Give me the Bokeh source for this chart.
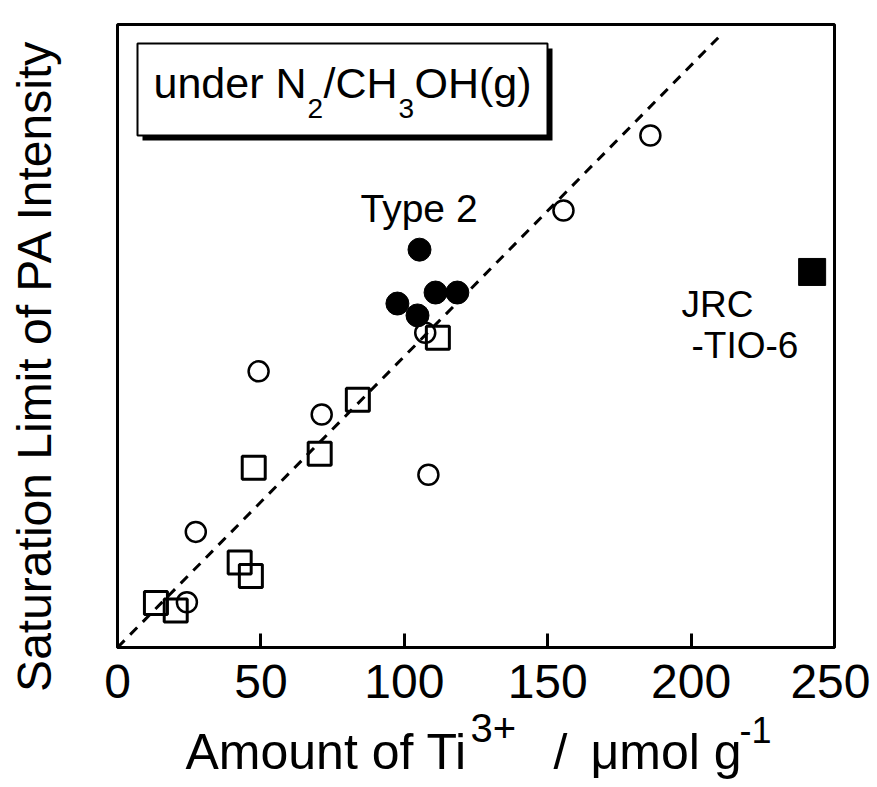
from math import pi
from bokeh.plotting import figure
from bokeh.models import Range1d, Label, BoxAnnotation, FixedTicker
from bokeh.embed import file_html
from bokeh.resources import INLINE

# ---- data ----
open_circle_x = [185.8, 155.5, 107.3, 49.2, 71.2, 108.4, 27.3, 24.2]
open_circle_y = [176.7, 150.8, 108.6, 95.3, 80.4, 59.6, 39.9, 15.6]

open_square_x = [111.7, 83.8, 70.5, 47.5, 42.6, 46.5, 13.4, 20.3]
open_square_y = [106.9, 85.5, 66.9, 62.0, 29.3, 24.7, 15.4, 12.8]

type2_x = [105.3, 97.6, 104.6, 110.9, 118.5]
type2_y = [137.3, 118.7, 114.6, 122.5, 122.5]

jrc_x = [242.2]
jrc_y = [129.6]

fit_x = [0, 211]
fit_y = [0, 212]

x_ticks = [0, 50, 100, 150, 200, 250]
X_MAX, Y_MAX = 250, 215

FONT = "Liberation Sans"

# canvas geometry (pixels): plot box drawn inside a full-canvas frame
W, H = 870, 787
BOX_L, BOX_R, BOX_T, BOX_B = 117, 834, 24, 647
SX = (BOX_R - BOX_L) / X_MAX
SY = (BOX_B - BOX_T) / Y_MAX

def dx(px):
    return (px - BOX_L) / SX

def dy(py):
    return (BOX_B - py) / SY

p = figure(width=W, height=H, output_backend="svg", toolbar_location=None,
           x_range=Range1d(dx(0), dx(W)), y_range=Range1d(dy(H), dy(0)),
           min_border=0)
p.background_fill_color = "white"
p.border_fill_color = "white"
p.outline_line_color = None
p.grid.visible = False
p.yaxis.visible = False

xa = p.xaxis[0]
xa.fixed_location = 0
xa.bounds = (0, X_MAX)
xa.ticker = FixedTicker(ticks=x_ticks)
xa.minor_tick_line_color = None
xa.major_tick_in = 14
xa.major_tick_out = 0
xa.major_tick_line_width = 3
xa.axis_line_width = 3
xa.major_label_text_font = FONT
xa.major_label_text_font_size = "48px"
xa.major_label_text_color = "black"
xa.major_label_standoff = 17

# plot box
p.add_layout(BoxAnnotation(left=0, right=X_MAX, bottom=0, top=Y_MAX,
                           fill_color=None, line_color="black", line_width=3,
                           line_alpha=1, level="underlay"))

# fit line
p.line(fit_x, fit_y, line_color="black", line_width=3, line_dash="10 8")

# markers
p.scatter(open_circle_x, open_circle_y, marker="circle", size=20,
          fill_color=None, line_color="black", line_width=2.5)
p.scatter(open_square_x, open_square_y, marker="square", size=23,
          fill_color=None, line_color="black", line_width=3)
p.scatter(type2_x, type2_y, marker="circle", size=23,
          fill_color="black", line_color="black", line_width=1)
p.scatter(jrc_x, jrc_y, marker="square", size=27,
          fill_color="black", line_color="black", line_width=1)

# condition box with shadow
p.add_layout(BoxAnnotation(left=dx(142), right=dx(552), top=dy(48), bottom=dy(140),
                           fill_color="black", fill_alpha=1, line_color=None))
p.add_layout(BoxAnnotation(left=dx(137), right=dx(547), top=dy(43), bottom=dy(135),
                           fill_color="white", fill_alpha=1,
                           line_color="black", line_width=2, line_alpha=1))

SHIFT = 0.41  # baseline correction (fraction of font size)

def lab(text, px, py, size, align="left", angle=0):
    if angle == 0:
        py = py - SHIFT * size
    else:
        px = px - SHIFT * size
    p.add_layout(Label(x=dx(px), y=dy(py), text=text, text_font=FONT,
                       text_font_size=f"{size}px", text_color="black",
                       text_align=align, text_baseline="alphabetic", angle=angle))

# box text: under N2/CH3OH(g)
lab("under N", 153, 100, 43)
lab("2", 307, 119, 28)
lab("/CH", 323, 100, 43)
lab("3", 398, 119, 28)
lab("OH(g)", 414, 100, 43)

# annotations
lab("Type 2", 360, 224, 39)
lab("JRC", 681, 319, 37)
lab("-TIO-6", 691, 360, 37)

# x-axis title: Amount of Ti3+ /  umol g-1
lab("Amount of Ti", 185, 772, 50)
lab("3+", 470, 744, 40)
lab("/", 553, 772, 50)
lab("\u03bcmol g", 590, 772, 50)
lab("-1", 739, 744, 36)

# y-axis title
lab("Saturation Limit of PA Intensity", 54, 365, 48, align="center", angle=pi / 2)

open("out.html", "w").write(file_html(p, INLINE))
